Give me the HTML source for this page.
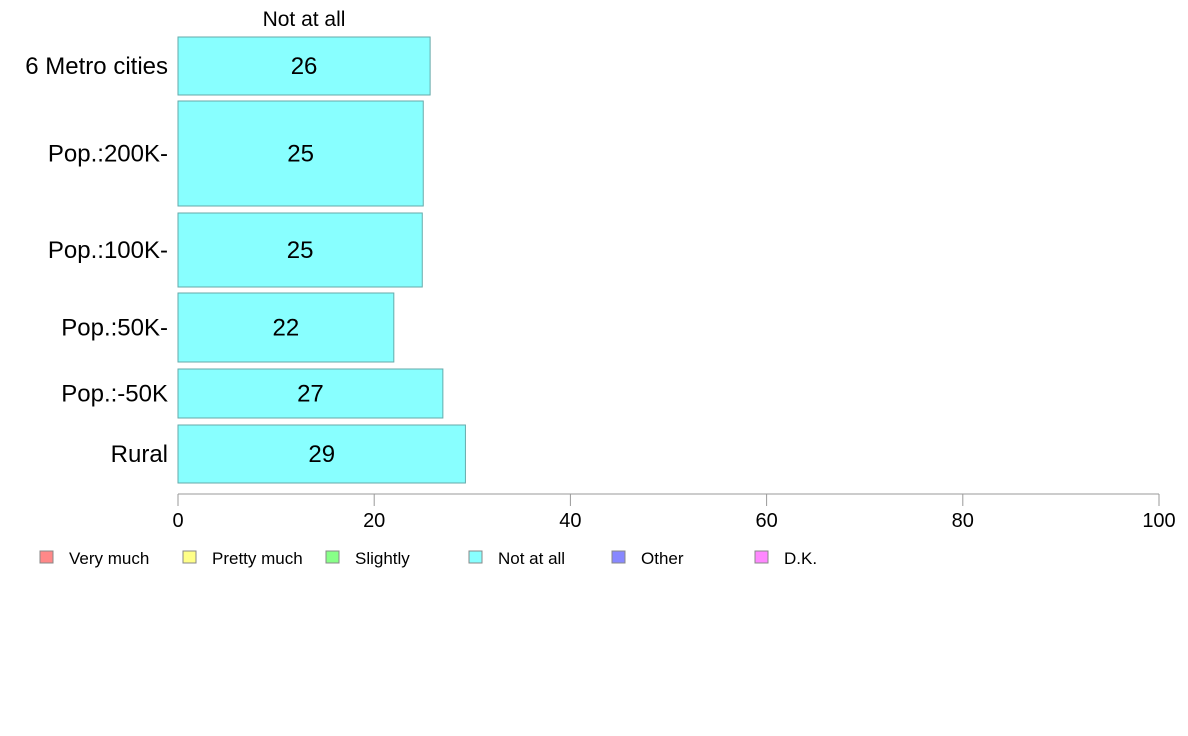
<!DOCTYPE html>
<html><head><meta charset="utf-8"><style>
body{margin:0;background:#fff;}
svg{display:block;font-family:"Liberation Sans",Arial,sans-serif;}
</style></head><body>
<svg id="chart" width="1188" height="736" viewBox="0 0 1188 736"></svg>
<script>
const categories=["6 Metro cities","Pop.:200K-","Pop.:100K-","Pop.:50K-","Pop.:-50K","Rural"];
const values=[25.7,25.0,24.9,22.0,27.0,29.3];
const labels=["26","25","25","22","27","29"];
const bandTops=[37,101,213,293,369,425];
const bandBottoms=[95,206,287,362,418,483];
const ticks=[0,20,40,60,80,100];
const legendItems=["Very much","Pretty much","Slightly","Not at all","Other","D.K."];
const legendColors=["#ff8888","#ffff88","#88ff88","#88ffff","#8888ff","#ff88ff"];
const NS="http://www.w3.org/2000/svg";
const svg=document.getElementById('chart');
const x=v=>178+v*9.81;
function mk(t,a,txt){const e=document.createElementNS(NS,t);for(const k in a)e.setAttribute(k,a[k]);if(txt!==undefined)e.textContent=txt;svg.appendChild(e);return e;}
const title=mk('text',{x:304,y:26,'font-size':21,'text-anchor':'middle',fill:'#000'},'Not at all');


categories.forEach((c,i)=>{
  const t=bandTops[i],b=bandBottoms[i],cy=(t+b)/2;
  const r=mk('rect',{x:178,y:t,width:x(values[i])-178,height:b-t,fill:'#88ffff',stroke:'#66aaaa','stroke-width':1});
  
  
  const v=mk('text',{x:(178+x(values[i]))/2,y:cy+8,'font-size':24,'text-anchor':'middle',fill:'#000'},labels[i]);
  
  
  const l=mk('text',{x:168,y:cy+8,'font-size':24,'text-anchor':'end',fill:'#000'},c);
  
  
});
const ax=mk('line',{x1:178,x2:x(100),y1:494,y2:494,stroke:'#999','stroke-width':1});


ticks.forEach(t=>{
  const tl=mk('line',{x1:x(t),x2:x(t),y1:494,y2:506,stroke:'#999','stroke-width':1});
  
  
  const tt=mk('text',{x:x(t),y:527,'font-size':20,'text-anchor':'middle',fill:'#000'},String(t));
  
  
});
legendItems.forEach((n,i)=>{
  const lx=40+i*143;
  const s=mk('rect',{x:lx,y:551,width:13,height:12,fill:legendColors[i],stroke:'#888','stroke-width':1});
  
  
  const t=mk('text',{x:lx+29,y:564,'font-size':17,fill:'#000'},n);
  
  
});
</script>
</body></html>
